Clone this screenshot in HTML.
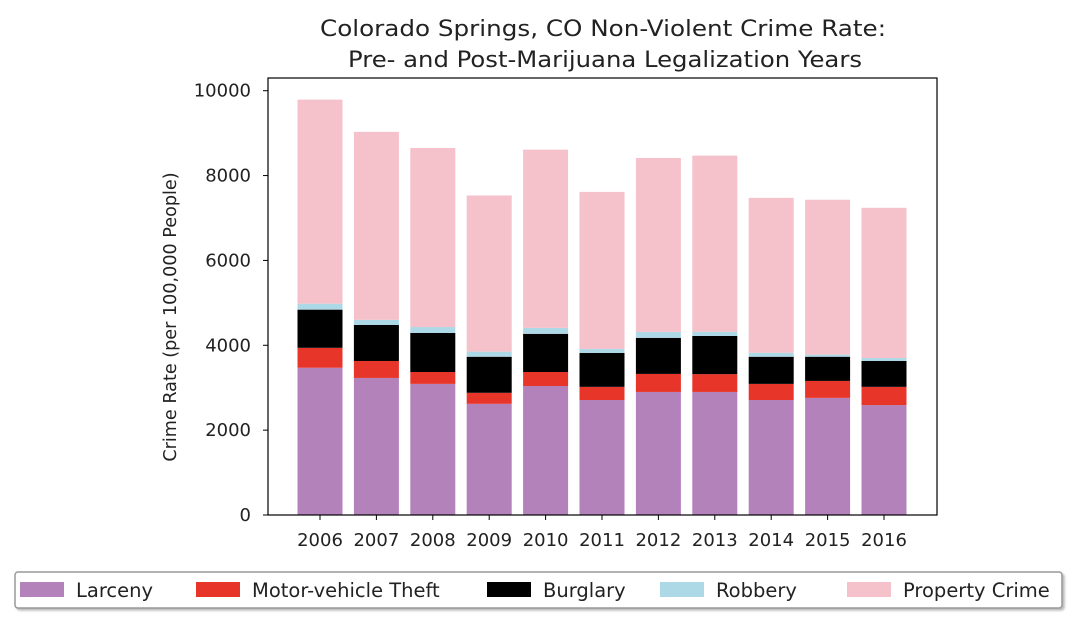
<!DOCTYPE html>
<html><head><meta charset="utf-8"><style>
body{margin:0;background:#fff;font-family:"Liberation Sans","DejaVu Sans",sans-serif;}
svg text{font-family:"DejaVu Sans","Liberation Sans",sans-serif;fill:#222;}
</style></head><body>
<svg id="c" width="1078" height="628">
<text x="603" y="36" font-size="22" text-anchor="middle" textLength="566" lengthAdjust="spacingAndGlyphs">Colorado Springs, CO Non-Violent Crime Rate:</text>
<text x="605" y="67" font-size="22" text-anchor="middle" textLength="514" lengthAdjust="spacingAndGlyphs">Pre- and Post-Marijuana Legalization Years</text>
<g id="bars"></g>
<rect x="268" y="78" width="669" height="437" fill="none" stroke="#000" stroke-width="1.2"/>
<g id="axes"></g>
<text transform="translate(176,317) rotate(-90)" font-size="17.6" text-anchor="middle">Crime Rate (per 100,000 People)</text>
<rect x="15" y="572" width="1047" height="36" fill="#fff" stroke="#999" stroke-width="1.5" rx="3" style="filter:drop-shadow(2px 2px 1px #bbb)"/>
<g id="legend"></g>
</svg>
<script>
const years=["2006","2007","2008","2009","2010","2011","2012","2013","2014","2015","2016"];
const larceny=[3470,3230,3090,2620,3040,2710,2900,2900,2710,2760,2590];
const motorVehicle=[470,400,280,260,330,310,425,420,380,400,430];
const burglary=[900,850,920,850,900,800,850,900,640,570,610];
const robbery=[140,120,140,120,140,95,140,100,95,50,70];
const property=[4810,4430,4220,3680,4200,3700,4100,4150,3650,3650,3540];
const yTicks=[0,2000,4000,6000,8000,10000];
const series=[["Larceny",larceny,"#b382bb"],["Motor-vehicle Theft",motorVehicle,"#e8352a"],["Burglary",burglary,"#000000"],["Robbery",robbery,"#add8e6"],["Property Crime",property,"#f5c1ca"]];
const NS="http://www.w3.org/2000/svg";
const y=v=>515-v*0.04243;
const x=i=>320+i*56.4;
const bw=45;
const gB=document.getElementById('bars'),gA=document.getElementById('axes'),gL=document.getElementById('legend');
function mk(tag,at,p){const e=document.createElementNS(NS,tag);for(const k in at)e.setAttribute(k,at[k]);p.appendChild(e);return e;}
years.forEach((yr,i)=>{let base=0;series.forEach(s=>{const v=s[1][i];
const r=mk('rect',{x:x(i)-bw/2,y:y(base+v),width:bw,height:y(base)-y(base+v),fill:s[2]},gB);


base+=v;});
mk('line',{x1:x(i),x2:x(i),y1:515,y2:520,stroke:'#000'},gA);
const t=mk('text',{x:x(i),y:546,'font-size':18,'text-anchor':'middle'},gA);t.textContent=yr;

});
yTicks.forEach(v=>{mk('line',{x1:263,x2:268,y1:y(v),y2:y(v),stroke:'#000'},gA);
const t=mk('text',{x:251,y:y(v)+6,'font-size':18,'text-anchor':'end'},gA);t.textContent=v;

});
const lx=[20,196,487,660,847];
series.forEach((s,i)=>{const g=mk('g',{},gL);


mk('rect',{x:lx[i],y:582,width:44,height:15,fill:s[2]},g);
const t=mk('text',{x:lx[i]+56,y:597,'font-size':19.5},g);t.textContent=s[0];});
</script>
</body></html>
